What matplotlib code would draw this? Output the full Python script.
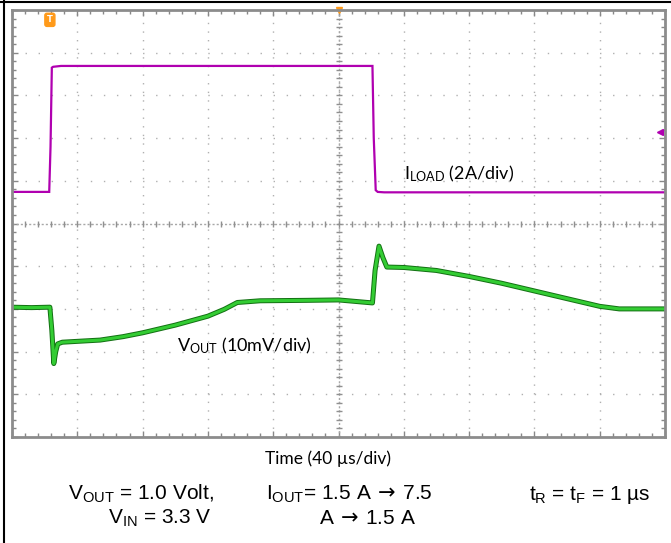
import numpy as np
import matplotlib
matplotlib.use("Agg")
import matplotlib.pyplot as plt
from matplotlib.ticker import MultipleLocator
import matplotlib.patheffects as pe

# screen divisions (10 x 10), x = time div, y = vertical div
iload_x = [0.0, 0.57, 0.59, 0.61, 0.63, 0.75, 5.52, 5.54, 5.57, 5.60, 5.70, 10.0]
iload_y = [5.74, 5.74, 6.8, 8.65, 8.67, 8.69, 8.69, 7.0, 5.78, 5.74, 5.73, 5.73]

vout_x = [0.0, 0.3, 0.58, 0.61, 0.64, 0.67, 0.70, 0.77, 1.0, 1.35, 1.7, 2.0, 2.5, 3.0,
          3.25, 3.45, 3.8, 4.5, 5.0, 5.52, 5.56, 5.62, 5.68, 5.74, 6.0, 6.5, 7.0, 7.5,
          8.0, 8.5, 9.0, 9.3, 10.0]
vout_y = [3.04, 3.03, 3.04, 2.5, 1.72, 2.0, 2.18, 2.22, 2.24, 2.27, 2.35, 2.44, 2.62, 2.83,
          2.99, 3.15, 3.19, 3.2, 3.21, 3.14, 3.9, 4.47, 4.2, 3.98, 3.97, 3.9, 3.76, 3.6,
          3.42, 3.24, 3.06, 3.0, 3.0]

W, H = 671, 543
fig = plt.figure(figsize=(W / 100, H / 100), dpi=100)
ax = fig.add_axes([12 / W, 1 - 437 / H, (665 - 12) / W, (437 - 10) / H])
ax.set_xlim(0, 10)
ax.set_ylim(0, 10)

ax.xaxis.set_major_locator(MultipleLocator(1))
ax.yaxis.set_major_locator(MultipleLocator(1))
ax.xaxis.set_minor_locator(MultipleLocator(0.2))
ax.yaxis.set_minor_locator(MultipleLocator(0.2))
ax.tick_params(which='both', direction='in', top=True, right=True,
               labelbottom=False, labelleft=False, color='#888888', width=1)
ax.tick_params(which='major', length=4)
ax.tick_params(which='minor', length=3)
for s in ax.spines.values():
    s.set_color('#8c8c8c')
    s.set_linewidth(2)

ax.xaxis.grid(True, which='major', color='#b0b0b0', lw=1, linestyle=(0, (1, 5.2)))
ax.yaxis.grid(True, which='major', color='#b0b0b0', lw=1, linestyle=(0, (1, 8.4)))

# centre cross with small ticks
ax.axhline(5, color='#a8a8a8', lw=1, linestyle=(0, (1.5, 1.5)))
ax.axvline(5, color='#a8a8a8', lw=1, linestyle=(0, (1.5, 1.5)))
mt = np.arange(0, 10.01, 0.2)
ax.plot(mt, np.full_like(mt, 5), ls='none', marker='|', ms=5, mew=1, color='#909090')
ax.plot(np.full_like(mt, 5), mt, ls='none', marker='_', ms=5, mew=1, color='#909090')

ax.plot(iload_x, iload_y, color='#b000b0', lw=1.6, solid_joinstyle='miter')
ax.plot(vout_x, vout_y, color='#33cc33', lw=2.2,
        path_effects=[pe.Stroke(linewidth=3.6, foreground='#137013'), pe.Normal()])

# scope markers
ax.text(0.58, 9.77, 'T', color='white', fontsize=6, fontweight='bold', ha='center', va='center',
        bbox=dict(boxstyle='round,pad=0.25', fc='#ff9a1a', ec='#ff9a1a'))
ax.plot([5.0], [10.0], marker='v', ms=5, color='#ff9a1a', clip_on=False)
ax.plot([9.93], [7.14], marker='<', ms=4, color='#b000b0', clip_on=False)

lato = ['Lato', 'DejaVu Sans']
ax.text(6.0, 6.03, r'$\mathregular{I_{LOAD}}$ (2A/div)', fontsize=13, family=lato)
ax.text(2.53, 2.0, r'$\mathregular{V_{OUT}}$ (10mV/div)', fontsize=13, family=lato)

# outer frame lines
fig.add_artist(plt.Line2D([0, 1], [1 - 1.5 / H, 1 - 1.5 / H], color='black', lw=1.5))
fig.add_artist(plt.Line2D([3.5 / W, 3.5 / W], [0, 1], color='black', lw=1.5))

arial = ['Liberation Sans', 'DejaVu Sans']
arrow = r'$\,\rightarrow\,$'
fig.text(328 / W, 1 - 464 / H, 'Time (40 µs/div)', fontsize=12.5, family=lato, ha='center', va='baseline')
fig.text(68 / W, 1 - 500 / H, r'$\mathregular{V_{OUT}}$ = 1.0 Volt,', fontsize=15, family=arial, va='baseline')
fig.text(212 / W, 1 - 524 / H, r'$\mathregular{V_{IN}}$ = 3.3 V', fontsize=15, family=arial, ha='right', va='baseline')
fig.text(266 / W, 1 - 500 / H, r'$\mathregular{I_{OUT}}$= 1.5 A' + arrow + '7.5', fontsize=15, family=arial, va='baseline')
fig.text(416 / W, 1 - 524 / H, 'A' + arrow + '1.5 A', fontsize=15, family=arial, ha='right', va='baseline')
fig.text(650 / W, 1 - 500 / H, r'$\mathregular{t_R}$ = $\mathregular{t_F}$ = 1 µs', fontsize=15, family=arial, ha='right', va='baseline')

fig.savefig('out.png', dpi=100)
